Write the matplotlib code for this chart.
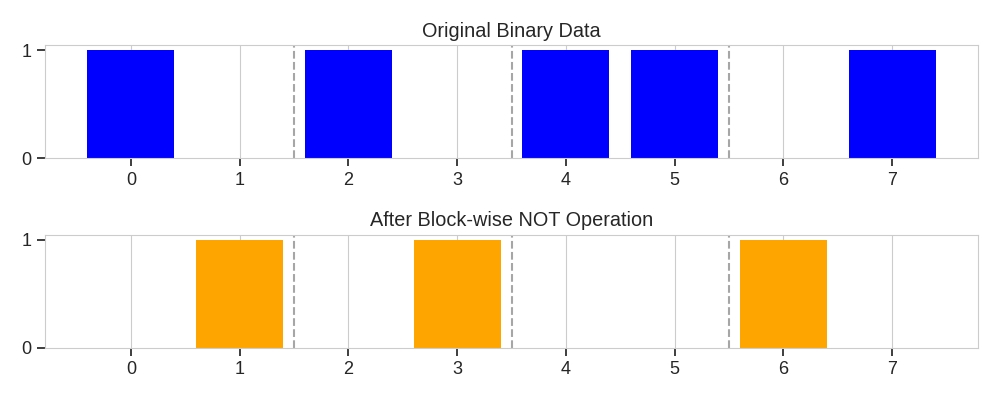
import matplotlib.pyplot as plt
import seaborn as sns

# Данные
positions = [0, 1, 2, 3, 4, 5, 6, 7]
original = [1, 0, 1, 0, 1, 1, 0, 1]
after_not = [0, 1, 0, 1, 0, 0, 1, 0]
block_edges = [1.5, 3.5, 5.5]

sns.set_style("whitegrid")
plt.rcParams['font.family'] = ['Liberation Sans', 'DejaVu Sans']

fig, axes = plt.subplots(2, 1, figsize=(10, 4))

panels = [
    (original, 'blue', 'Original Binary Data'),
    (after_not, 'orange', 'After Block-wise NOT Operation'),
]

for ax, (vals, color, title) in zip(axes, panels):
    ax.bar(positions, vals, color=color, linewidth=0)
    for b in block_edges:
        ax.axvline(b, color='gray', linestyle='--', alpha=0.7)
    ax.set_title(title, fontsize=14.3)
    ax.set_xticks(positions)
    ax.set_yticks([0, 1])
    ax.grid(axis='y', visible=False)
    ax.tick_params(bottom=True, left=True, labelsize=13, length=6,
                   width=1.25, color='#262626')

plt.subplots_adjust(left=0.045, right=0.978, top=0.8875, bottom=0.13, hspace=0.67)
plt.savefig('out.png', dpi=100)
